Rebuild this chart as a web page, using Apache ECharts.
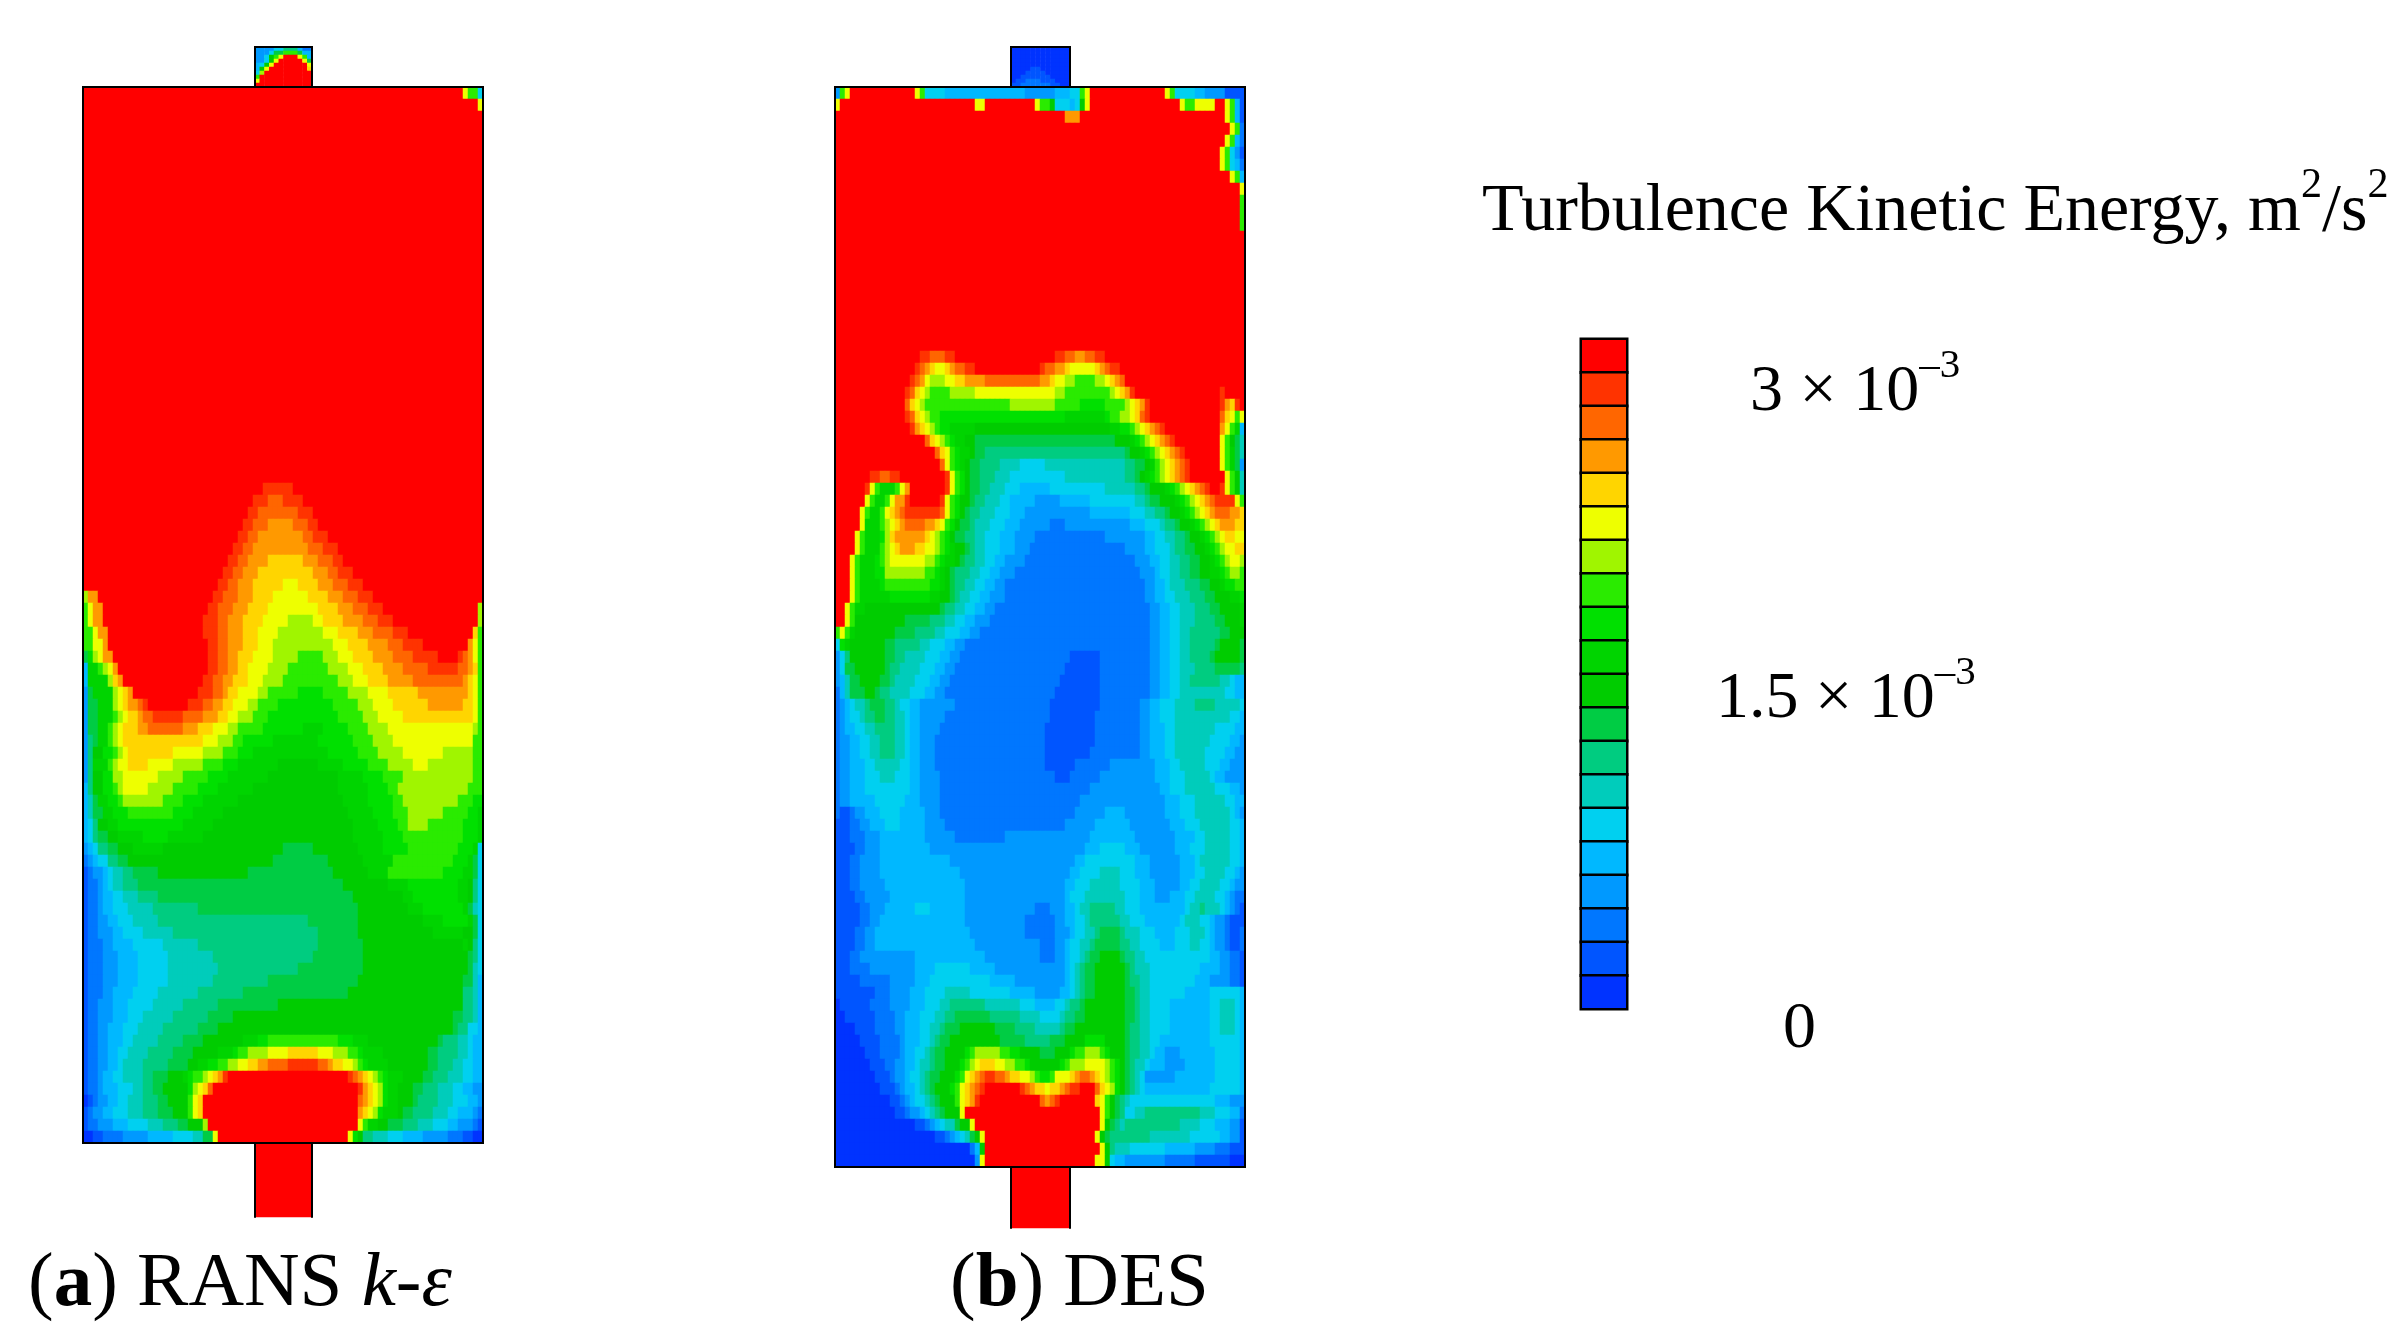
<!DOCTYPE html>
<html>
<head>
	<meta charset="UTF-8">
	<title>Turbulence Kinetic Energy</title>
	<script src="https://cdn.jsdelivr.net/npm/echarts@6/dist/echarts.min.js"></script>
	<style>html,body{margin:0;background:#fff}</style>
</head>
<body>
	<div id="main" style="width:2405px;height:1344px;"></div>
	<script type="text/javascript">
		// contour bands, lowest first; A = band 0 ... T = band 19 (3e-3 m2/s2 and above)
		var bandLetters = 'ABCDEFGHIJKLMNOPQRST';
		var bandColors = ['#0033ff', '#0055ff', '#0077ff', '#0099ff', '#00b8ff', '#00d0f0', '#00ccbb', '#00cc80', '#00cc44', '#00cc00',
			'#00d400', '#00e000', '#2aeb00', '#a0f500', '#eeff00', '#ffd500', '#ff9900', '#ff6600', '#ff3300', '#ff0000'];
		var colorbarBands = ['T', 'S', 'R', 'Q', 'P', 'O', 'N', 'M', 'L', 'K', 'J', 'I', 'H', 'G', 'F', 'E', 'D', 'C', 'B', 'A'];

		// each row reads left to right: band letter + column where that band ends
		var rowsBodyA = [
			'T76O77M79F', 'T79O',
			'T', 'T', 'T', 'T', 'T', 'T', 'T', 'T', 'T', 'T',
			'T', 'T', 'T', 'T', 'T', 'T', 'T', 'T', 'T', 'T',
			'T', 'T', 'T', 'T', 'T', 'T', 'T', 'T', 'T', 'T',
			'T',
			'T36S42T',
			'T34S37R40S44T',
			'T33S35R43S46T',
			'T32S34R37Q42R45S47T',
			'T31S33R35Q44R46S49T',
			'T30S32R34Q45R48S51T',
			'T29S31R33Q37P44Q47R50S52T',
			'T28S30R32Q35P46Q49R51S54T',
			'T27S29R31Q34P40O43P47Q50R53S56T',
			'N1Q3T26S28R31Q34P38O45P49Q52R55S58T',
			'M1O2Q4T25S27R30Q33P37O47P51Q54R57S60T79N',
			'M1O2Q4T24S27R29Q32P36O41N46O48P52Q56R59S62T79N',
			'M2O3Q5T24S27R29Q32P35O39N48O51P55Q58R62S65T78P79M',
			'M2O4Q5T25S27R29Q32P35O38N50O53P57Q61R64S68T77Q78O79M',
			'I1L2N3O4Q6T25S27R29Q31P34O38N43M48N51O54P58Q62R66S71T75S76R77Q78O79M',
			'E1K3M4N5O6Q7T25S27R29Q31P33O37N41M49N53O56P60Q64R69S75R77Q78P79M',
			'E1K5N6P7Q8T24S26R28Q30P33O36N40M51N54O57P61Q66R76Q77P78O79M',
			'D1I2K6N7O8P9Q10T23S26R28Q29P31O35N37M43L48M53N57O61P67Q77P78O79M',
			'D1I3K6N7O8P9Q11R12S13T21S24R26Q28P30O33N35M39L50M55N58O62P69Q76P78O79M',
			'D1I3K6M7N8O9P11Q12R14S20R24Q27P29O31N34M37L51M56N59O64P78O79M',
			'D1I3K5M6N7O8P11Q13R20Q23P26O29N31M36L44K48L53M57N61O78N79M',
			'D1H2I3K5M6N7O8P24O27N30M32L38K47L54M58N62O78M',
			'D1H2J4L6M7N8O9P18O24N28M31L34K49L55M59N64O72N78M',
			'D1H2K5M6N7O9P13O18N24M28L31K39J47K52L57M61N66O69N78M',
			'D1H2J4L6N8O15N20M25L29K37J51K56L60M64N78M',
			'E1H2J4L6M7N8O13N18M23L27K34J51K57L61M63N77M',
			'E1G2I3K5L7M8N16M20L24K31J52K57L62M64N75M78L',
			'E1G2I4K6L9M18L22K28J53K58L62M65N72M77L79K',
			'E1F2H3J5K7L20K26J54K59L63M65N69M76L79K',
			'E1F2H3I5J7K12L17K24J54K60L64M76L79K',
			'D1E2F3H5I7J10K16J40I46J55K60L65M75L78K79F',
			'C1D2E3F5H7I9J38I49J56K62M74L77K78I79F',
			'B1C2D4E5F6G8H10I15J33I50J57K61M72L76K78I79F',
			'B1C3D4E5F6G8H11I52J61K65L75K77J78H79F',
			'B1C3D4E6F8G11H15I54J64K66L75K77J78H79F',
			'B1C3D4E6F9G14H23I55J65K68L76K77I78G79F',
			'B1C3D5E7F10G15H45I55J68K72L77K78I79F',
			'B1C3D6E8F12G18H47I55J70K76J78I79F',
			'B1C4D6E10F16G23H47I56J76K77J78H79F',
			'B1C4D7E11F17G26H46I56J77I78H79F',
			'B1C4D7E11F17G27H43I56J77I78G79F',
			'B1C4D7E11F17G26H37I55J76I78G79E',
			'B1C4D6E10F15G23H32I53J76H78G79E',
			'B1C3D6E9F14G20H27I39J76H78G79E',
			'B1C3D6E9F12G18H25I30J74I76H78G79E',
			'B1C3D5E8F11G16H23I27J74I75H77F79E',
			'B1C3D5E8F10G15H20I24J32K35L37M51L54K57J71I72H75G77F78E',
			'B1C3D5E7F9G13H18I22J27K30L31M33N37O41P47O50N53M55L56K60J69I71H75G77F78E',
			'B1C3D5E7F8G12H17I21J23K25L27M29N31O33P35Q37R41S47R49Q50P52O54N55M56L57K61J69I71H74G76F78E',
			'B1C3D4E6F8G12H14I17J20K21L22M24N25O26P27Q28S29T53S54R55Q56P57O58N59M60L61K64J68I70H73G76F78E',
			'B1C3D4E7F10G12H14I16J21L22N23O24P25R26T55S56Q57P58O59N60L61K63J66I68H71G74F76E78D',
			'A1B2C3D5E7F9G12H15I17J21M22O23P24T55R56Q57P58O59N60L61K63J66I67H71G74F77E79D',
			'B1C2D4E6F9G12H15I18J21M22O23P24T55Q56P57O58N59L60K63J64I66H70G73F75E78D79C',
			'B1C3D6E9F13G16H19I21J24N25T55O56M57K59J61I64H67G70F73E75D78C79B',
			'A2B4C8D13E18F22G24I26O27T53O54L55J56H58G61F64E68D73C76B78A'
		];
		var rowsBodyB = [
			'D1M2O3T16O17M18F22E38D44E47F49M50O51T66O67M68F72E74D78B',
			'O1T28O30T40O41M43J44F47E48F49J50O51T69O70M72O76T78O79M80E81B',
			'T46Q49T78O79M80E81B',
			'T79O80M81C',
			'T78O79M80E81C',
			'T77O78M79F80D81B',
			'T77O78M79F80E81C',
			'T79O80M81E',
			'T81O', 'T81M', 'T81M', 'T81M',
			'T', 'T', 'T', 'T', 'T', 'T', 'T', 'T', 'T', 'T',
			'T17S19R22S24T44S46R48Q50R52S54T',
			'T16S17R18Q19P20O22P23Q24R26S28T41S42R44Q46P47O52P53Q54R55S57T',
			'T15S16R17Q18O19N22O24P26Q30R41Q43P44O46N48M52N54O55P56Q57R58T',
			'T14S15R16P17O18N19M23N28O44N46M55N56O57P58Q59S60T77S78T',
			'T14R15P16O17N18M35N44M49L54M58N59O60P61Q62S63T77S78Q79P80S81T',
			'T14S15R16P17O18N19M21L46K54L55M57N59O60P61R62S63T77R78P79O80M81O',
			'T15S16Q17P18O19N20M21L23K28J55K57L59M60N61O62P63Q64R65S66T77Q78O79M80K81E',
			'T18R19P20O21N22M23L24K26J28I56J59K60L61M62N63O64P65Q66R67S68T77O78M79J80I81G',
			'T20R21P22O23M24L25K27J28I30H58I59J61K62L63M64N65O66P67Q68R69S70T77O78M79K80I81G',
			'T21R22O23M24L25K26J27I29H33G37F42G58H60I62J63K64M65N66O67P68Q69R70S71T77O78M79K80I81D',
			'T7S9R11S13T22S23O24M25L26J27I29H32G35F46G58H60I61J62K63L64M65N66O67P68Q69R70S71T78O79M80J81G',
			'T6S7O8M9K12M13O14Q15T22S23O24M25L26J27I29H31G34F37E43F54G60H62I63J66K67L68M69N70O71P72Q73R74S75T77S78O79M80J81G',
			'T6O7M8K10M11O12Q14S15T21S22O23M24L25J27I28H30G33F35E40D45E51F60G62H63I65J68K69L70M71N72O73P74Q75R76S80O81M',
			'T5O6M7K9M10O11P12Q13R14S21R22O23M24L25J26I27H29G32F35E38D51E59F62G64H66I67J69K70L71M72N73O74P75Q76R79Q81P',
			'T5O6K9M10N11O12P13Q14R18Q20P21O22M23L24J25I27H28G31F34E37D43C46D59E62F65G66H68I69J71K72L73M74N75O76P77Q80P',
			'T4O5M6K9L10N11P12Q18P19O20N21M22L23J24I26H28G30F33E36D40C54D62E64F66G68H70I71J73K74L75M76N77O78P80O',
			'T4O5M6K9M10N11O12P13Q16P18O20N21M22L23K24J26I27H28G30F33E36D39C58D62E64F67G68H70I72J74K75L76M77N78O80P',
			'T3O4M5K8L9M10N11O18N20M21L22K24J25I26H28G30F32E34D38C60D63E65F67G69H71I73J75K76L77M78N79O81N',
			'T3O4M5K8L10N18M20L21K22J23I24H27G29F31E33D36C61D64E65F67G69H71I73J75K77L78M79N81M',
			'T3O4M5K9L10M19L21K22J23I24H26G28F30E32D34C62D64E66F67G70H73I75J77K78L80M',
			'T3O4M5K11L19K21J23I24H25G27F29E31D34C62D64E66F68G71H74I76J79K81L',
			'T2O3M4K6J21I22H24G26F28E30D32C63D65E67F69G72H75I77J81K',
			'T2O3M4J14I19H22G24F26E28D31C63D65E67F69G72H76I78J81K',
			'M1O2M3K4J12I16H20G22F25E27D29C63D65E67F69G71H77I79J',
			'F1L2K3J10I12H17G19F22E24D26C63D65E67F69G71H76I77J81I',
			'D1F2H3J10I12H14G18F21E23D25C47B53C63D65E67F69G71H75I76J81I',
			'D1F2I4J10I11H13G17F20E22D24C46B53C63D65E67F69G72H76I81H',
			'D1E2G3I5J9I11H12G16F19E21D23C45B53C63D65E67F69G71H77G79F80E',
			'C1E2G3I6J8I9H11G15F18E20D22C44B53C63D65E67F69G78F80E',
			'C1D2E3F4G6H7I10H12G13F15E17D24C43B53C61D63E65F68G72H76G81F',
			'C1D2E3F5G6H8I10H12G14F15E17D22C43B52C61D63E65F68G79F81E',
			'C1D2E4F6G8H12G14F15E17D21C42B52C61D63E66F68G76F80E',
			'C1D3E5F7G9H12G14F15E17D20C42B52C61D63E66F68G75F79E81D',
			'C1D3E5F7G9H12G14F15E17D20C42B51C61D63E66F68G74F78E80D',
			'C1D3E6F8G13F15E17D20C42B48C55D64E67F69G74F77E79D',
			'C1D3E6F9G12F15E17D21C44B47C53D64E67F70G75F76E78D',
			'C1D3E6F15E17D21C51D65E67F70G76F79E81D',
			'C1D3E8F14E17D21C49D66E69F72G78F80E',
			'C1B3C4D6E9F13E18D21C48D54E58D66E69F72G79F80E81D',
			'B3C5D7E10F13E18D22C46D52E59D67E70F73G79F81E',
			'B3C6D9E18D24C34D51E60D68E72F74G79F81E',
			'B4C6D9E19D50E53F58E61D68E71F74G79F81E',
			'B3C5D9E23D48E50F60E63D69E72F73G79F81E',
			'B3C5D9E25D47E49F53G57F60E63D69E72F74G78F80E81D',
			'B3C5D10E26D46E48F51G57F61E64D69E71F73G77F79E80D',
			'B4C6D11E26D46E47F50G58F61E64D67E70F72G76F78E79D80C',
			'B5C7D10E16F19E26D40C43D46E48F49G51H56G58F61E70F71G73H74G77F78E79D80C81B',
			'B5C7D9E26D38C44D46E48F50G51H57G59F62E69F70G73F75E76D78C79B',
			'B4C6D8E27D38C44D47E48F50G52H53I57H58G61F64E68F71G74F75E76D78C79B81C',
			'B4C6D8E28D41C44D46E47F49G51H52I57H59G61F65E68F71G73F75E76D78C79B81C',
			'B3C5D16E30D41C44D46E47F49G50H51I53J57I58H60G62F75E77D79C81B',
			'B3C7D16E20F27E32D46E47F48G49H50I52J58I59H60G63F73E77D79C81B',
			'B5C11D16E19F31E36D46E47F48G49H50I52J58I59H61G63F72E75D79C81B',
			'B8C11D15E18F22G27F35E40D45E47F48G49H50I52J58I60H61G63F70E75F81E',
			'A1B7C11D15E18F21G23H30G37F40E44F46G47H49I50J58I60H61G63F67E75F77G80F81E',
			'A2B8C12D14E17F20G22H24I31H37G41F45G46H48I50J58I60H61G63F67E75F77G80F81E',
			'A4B8C12D14E17F19G21H22I25J32I36H40G45H46I48J58I59H61G63F67E75F77G80F81E',
			'A5B9C13D14E17F19G20H21I23J33I38H43I46J50L54J58I59H61G63F65E75F81E',
			'A6B9C13D14E16F18G19H20I22J26L27M28N33M35L37J41I44J47L48M50N53M54L55J58I59H61G63F64E66D69E76F81E',
			'A7B10C12D14E16F17G19H20I22J25L26M27N28O29P32O34N36M38L39J45L46M47N50O54N55M56L57J58I59H60G62F63E66D70E76F81E',
			'A8B11C12D14E15F17G18H19I21J24L25M26O27P28Q29R30S32R34Q35P37O39N40M41L43M44O47P48Q49R51Q52P53O54N55M56L57J58I59H60G61F62D68E76F81E',
			'A9B12C13D14E16F17G18H19I20J23L24M25O26P27Q28R29S30T37S38R39Q40P42O43P45Q46R47S49T52R53P54O55N56L57J58I59H60G61F62E75F81E',
			'A11B13C14D15E16F18G19H20I21J24M25O26P27Q28S29T41R42Q43R44S45T52P53O54M55J56I57H58G59F76E79D',
			'A12B14C15D17E18F19G20H21I22J25O26T53O54M55J56I57H58F60G62H73G76F79E81C',
			'A16B18C19D20E21F22G24I25J27O28T53O54J55I56H57G58H69G73F76E79D81B',
			'A20B22C23D24E25F26G27I28J29O30T52O53J54I55H63G71F77E79D81B',
			'A27C28E29J30T53O54J55H56G59F66E72D76C79B',
			'A28D29O30T52O54J55F56E58D66C72B79A'
		];
		var rowsInletA = [
			'D4F6H9E10C12',
			'D3F4I6M9I10E12',
			'D2F3J4M5O6T9O10M11E12',
			'D2F3J4O5T10O11I12',
			'E1F2J3O4T11O12',
			'E1J2O3T11P12',
			'F1N2T',
			'M1T',
			'O1T',
			'T'
		];
		var rowsInletB = ['A', 'A', 'A', 'A', 'A', 'A4B6A', 'A3B7A', 'A2B8A', 'A1B3C6B9A', 'B2C8B10A'];
		var rowsOutlet = ['T'];

		function decodeRows(rows, cols) {
			var cells = [];
			rows.forEach(function (row, r) {
				var re = /([A-T])(\d*)/g, m, col = 0, last = 0;
				while ((m = re.exec(row))) {
					last = bandLetters.indexOf(m[1]);
					var end = m[2] === '' ? cols : +m[2];
					for (; col < end; col++) cells.push([col, r, last]);
				}
				for (; col < cols; col++) cells.push([col, r, last]);
			});
			return cells;
		}
		function indexList(n) {
			var list = [];
			for (var i = 0; i < n; i++) list.push(i);
			return list;
		}

		var grids = [], xAxes = [], yAxes = [], series = [];
		function addField(box, rows, cols, sidesOnly) {
			var g = grids.length;
			grids.push({
				left: box[0], top: box[1], width: box[2], height: box[3],
				show: !sidesOnly, z: 5, borderColor: '#000', borderWidth: 2, backgroundColor: 'transparent'
			});
			xAxes.push({ gridIndex: g, type: 'category', data: indexList(cols), show: false });
			var yIndex = yAxes.length;
			if (sidesOnly) {
				['left', 'right'].forEach(function (side) {
					yAxes.push({
						gridIndex: g, type: 'category', data: indexList(rows.length), inverse: true, position: side, z: 5,
						axisLine: { show: true, lineStyle: { color: '#000', width: 2 } }, axisTick: { show: false }, axisLabel: { show: false }
					});
				});
			} else {
				yAxes.push({ gridIndex: g, type: 'category', data: indexList(rows.length), inverse: true, show: false });
			}
			series.push({
				type: 'heatmap', xAxisIndex: g, yAxisIndex: yIndex, data: decodeRows(rows, cols),
				progressive: 0, silent: true, emphasis: { disabled: true }
			});
		}

		addField([83, 87, 400, 1056], rowsBodyA, 80);
		addField([255, 47, 57, 40], rowsInletA, 12);
		addField([255, 1143, 57, 74], rowsOutlet, 1, true);
		addField([835, 87, 410, 1080], rowsBodyB, 82);
		addField([1011, 47, 59, 40], rowsInletB, 12);
		addField([1011, 1167, 59, 61], rowsOutlet, 1, true);

		// colorbar
		var barGrid = grids.length;
		grids.push({ left: 1581, top: 339, width: 46, height: 670 });
		xAxes.push({ gridIndex: barGrid, type: 'category', data: [0], show: false });
		yAxes.push({ gridIndex: barGrid, type: 'category', data: indexList(colorbarBands.length), inverse: true, show: false });
		series.push({
			type: 'heatmap', xAxisIndex: barGrid, yAxisIndex: yAxes.length - 1,
			data: colorbarBands.map(function (b, i) { return [0, i, bandLetters.indexOf(b)]; }),
			progressive: 0, silent: true, emphasis: { disabled: true },
			itemStyle: { borderColor: '#000', borderWidth: 2.5 }
		});

		var serif = 'Liberation Serif';
		function label(text, left, top, size) {
			return {
				text: text, left: left, top: top, padding: 0,
				textStyle: {
					fontFamily: serif, fontSize: size, fontWeight: 'normal', color: '#000',
					rich: {
						n: { fontFamily: serif, fontSize: size, color: '#000', verticalAlign: 'bottom', lineHeight: size * 1.2 },
						sup: { fontFamily: serif, fontSize: size * 0.62, color: '#000', verticalAlign: 'top', lineHeight: size * 1.2 },
						b: { fontFamily: serif, fontSize: size, fontWeight: 'bold', color: '#000', verticalAlign: 'bottom', lineHeight: size * 1.2 },
						i: { fontFamily: serif, fontSize: size, fontStyle: 'italic', color: '#000', verticalAlign: 'bottom', lineHeight: size * 1.2 }
					}
				}
			};
		}

		var myChart = echarts.init(document.getElementById('main'), null, { renderer: 'canvas', width: 2405, height: 1344 });
		myChart.setOption({
			backgroundColor: '#fff',
			animation: false,
			tooltip: { show: false },
			title: [
				label('{n|Turbulence Kinetic Energy, m}{sup|2}{n|/s}{sup|2}', 1482, 165, 68),
				label('{n|3 × 10}{sup|–3}', 1750, 346, 66),
				label('{n|1.5 × 10}{sup|–3}', 1716, 653, 66),
				label('{n|0}', 1783, 983, 66),
				label('{n|(}{b|a}{n|) RANS }{i|k}{n|-}{i|ε}', 28, 1231, 77),
				label('{n|(}{b|b}{n|) DES}', 950, 1231, 77)
			],
			grid: grids,
			xAxis: xAxes,
			yAxis: yAxes,
			visualMap: {
				show: false, type: 'piecewise', dimension: 2,
				seriesIndex: series.map(function (s, i) { return i; }),
				pieces: bandColors.map(function (c, i) { return { value: i, color: c }; })
			},
			series: series
		});
	</script>
</body>
</html>
